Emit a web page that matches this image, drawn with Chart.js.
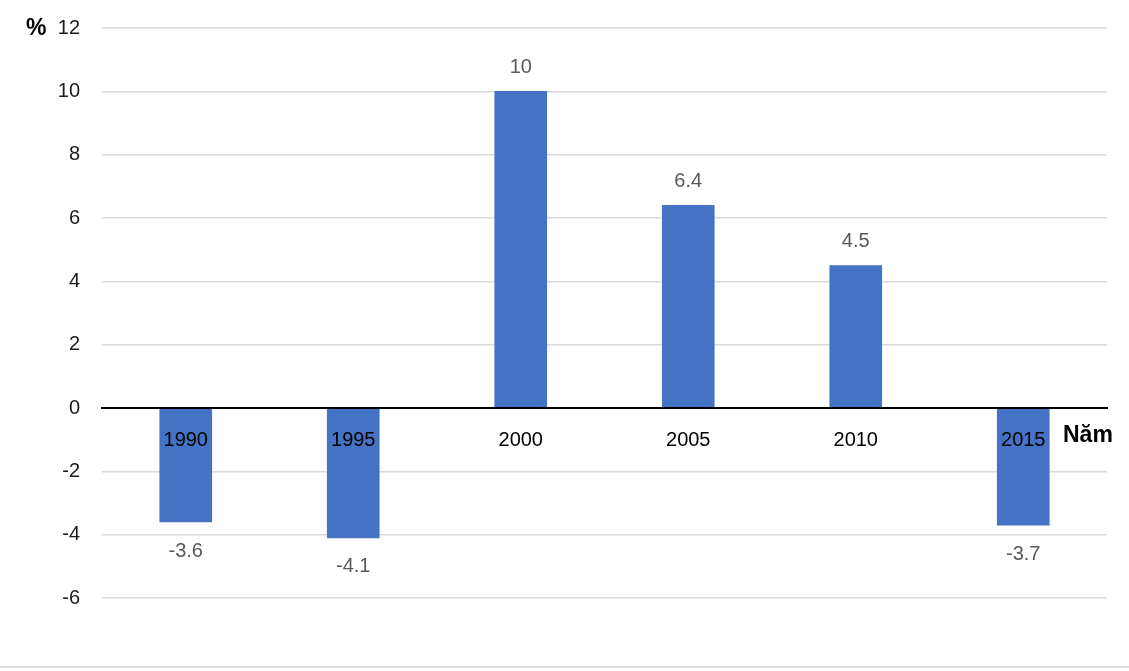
<!DOCTYPE html>
<html>
<head>
<meta charset="utf-8">
<script src="https://cdn.jsdelivr.net/npm/chart.js@4"></script>
<style>
  html, body { margin: 0; padding: 0; background: #fff; }
  #wrap { width: 1129px; height: 671px; }
</style>
</head>
<body>
<div id="wrap"><canvas id="chart"></canvas></div>
<script>
const years = ["1990", "1995", "2000", "2005", "2010", "2015"];
const growth = [-3.6, -4.1, 10, 6.4, 4.5, -3.7];
const yTicks = [-6, -4, -2, 0, 2, 4, 6, 8, 10, 12];

const FONT = "'Liberation Sans', 'Noto Sans', sans-serif";

// nhãn giá trị trên / dưới mỗi cột, chữ "%" và "Năm", đường kẻ dưới cùng
const extras = {
  id: "extras",
  afterDatasetsDraw(chart) {
    const ctx = chart.ctx;
    const meta = chart.getDatasetMeta(0);
    ctx.save();
    ctx.font = "20px " + FONT;
    ctx.fillStyle = "#595959";
    ctx.textAlign = "center";
    ctx.textBaseline = "middle";
    meta.data.forEach((bar, i) => {
      const v = growth[i];
      const y = v >= 0 ? bar.y - 24 : bar.y + 29;
      ctx.fillText(String(v), bar.x, y);
    });
    ctx.fillStyle = "#000";
    ctx.font = "bold 23px " + FONT;
    ctx.textAlign = "left";
    ctx.fillText("%", 26, chart.scales.y.getPixelForValue(12) + 1);
    ctx.fillText("Năm", 1063, chart.scales.y.getPixelForValue(0) + 28);
    ctx.strokeStyle = "#e0e0e0";
    ctx.lineWidth = 2;
    ctx.beginPath();
    ctx.moveTo(0, 667);
    ctx.lineTo(chart.width, 667);
    ctx.stroke();
    ctx.restore();
  }
};

new Chart(document.getElementById("chart").getContext("2d"), {
  type: "bar",
  data: {
    labels: years,
    datasets: [{
      data: growth,
      backgroundColor: "#4472C4",
      barThickness: 52
    }]
  },
  options: {
    responsive: true,
    maintainAspectRatio: false,
    animation: false,
    layout: { padding: { top: 28, right: 22, bottom: 73, left: 0 } },
    plugins: {
      legend: { display: false },
      tooltip: { enabled: false }
    },
    scales: {
      x: {
        position: { y: 0 },
        grid: { display: false, drawTicks: false },
        border: { display: true, color: "#000", width: 2, z: 1 },
        ticks: {
          z: 1,
          color: "#000",
          font: { size: 20, family: FONT },
          padding: 20,
          maxRotation: 0
        }
      },
      y: {
        min: -6,
        max: 12,
        afterBuildTicks(scale) {
          scale.ticks = yTicks.map(v => ({ value: v }));
        },
        afterFit(scale) {
          scale.width = 102;
          scale.paddingTop = 0;
          scale.paddingBottom = 0;
        },
        grid: {
          color: "#d9d9d9",
          lineWidth: 1.5,
          drawTicks: false
        },
        border: { display: false },
        ticks: {
          color: "#1a1a1a",
          font: { size: 20, family: FONT },
          padding: 22
        }
      }
    }
  },
  plugins: [extras]
});
</script>
</body>
</html>
